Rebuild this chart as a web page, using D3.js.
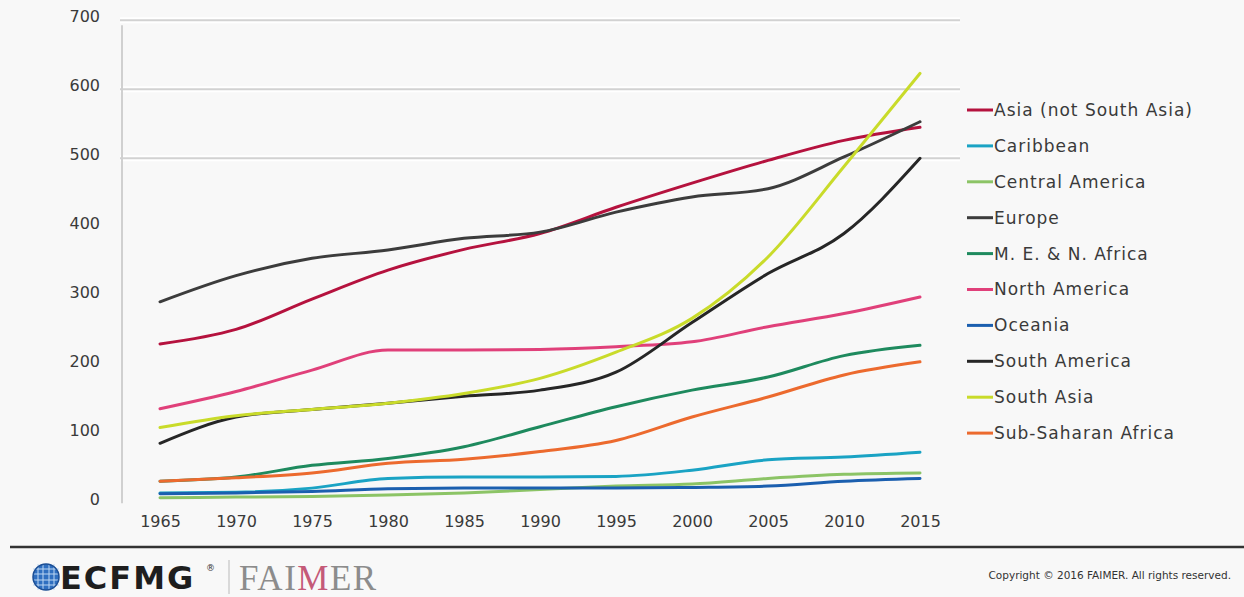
<!DOCTYPE html>
<html>
<head>
<meta charset="utf-8">
<script src="https://cdn.jsdelivr.net/npm/d3@7"></script>
<style>
  html, body { margin: 0; padding: 0; background: #f8f8f8; }
  svg { display: block; }
</style>
</head>
<body>
<svg id="chart" width="1244" height="597"></svg>
<script>
// Medical schools by region, 1965–2015
const years = [1965, 1970, 1975, 1980, 1985, 1990, 1995, 2000, 2005, 2010, 2015];
const yTicks = [0, 100, 200, 300, 400, 500, 600, 700];
const gridValues = [500, 600, 700];

const regionNames = [
  "Asia (not South Asia)", "Caribbean", "Central America", "Europe",
  "M. E. & N. Africa", "North America", "Oceania", "South America",
  "South Asia", "Sub-Saharan Africa"
];

const asia           = [231, 252, 296, 338, 368, 391, 429, 464, 497, 526, 545];
const caribbean      = [15, 16, 22, 36, 38, 38, 39, 48, 63, 67, 74];
const centralAmerica = [8, 9, 10, 12, 15, 20, 25, 28, 36, 42, 44];
const europe         = [292, 330, 355, 367, 384, 393, 422, 444, 456, 502, 553];
const meNAfrica      = [32, 38, 55, 65, 82, 111, 140, 164, 183, 214, 229];
const northAmerica   = [137, 162, 193, 222, 222, 223, 227, 234, 256, 275, 299];
const oceania        = [14, 15, 17, 21, 22, 22, 22, 23, 25, 32, 36];
const southAmerica   = [87, 125, 136, 145, 155, 164, 190, 262, 333, 391, 500];
const southAsia      = [110, 127, 136, 145, 159, 181, 219, 268, 357, 488, 623];
const subSaharan     = [32, 37, 44, 58, 64, 75, 91, 125, 154, 186, 205];

const regionValues = [asia, caribbean, centralAmerica, europe, meNAfrica,
                      northAmerica, oceania, southAmerica, southAsia, subSaharan];
const regionColors = ["#B5123E", "#1AA3C4", "#8CC466", "#3C3C3C", "#1E8A5E",
                      "#E0407A", "#1B5FAF", "#262626", "#C9DB2A", "#EC6A2E"];

const series = regionNames.map((name, i) => ({
  name, color: regionColors[i],
  values: years.map((yr, j) => ({ year: yr, value: regionValues[i][j] }))
}));

const svg = d3.select("#chart");
const textColor = "#3a3a3a";

const x = d3.scalePoint().domain(years).range([160, 920]);
const y = d3.scaleLinear().domain([0, 700]).range([503.3, 20.3]);

// gridlines (white halo under a light grey rule)
const grid = svg.append("g");
grid.selectAll("line.halo").data(gridValues).join("line")
  .attr("class", "halo")
  .attr("x1", 120).attr("x2", 960)
  .attr("y1", d => y(d)).attr("y2", d => y(d))
  .attr("stroke", "#ffffff").attr("stroke-width", 6);
grid.selectAll("line.rule").data(gridValues).join("line")
  .attr("class", "rule")
  .attr("x1", 120).attr("x2", 960)
  .attr("y1", d => y(d)).attr("y2", d => y(d))
  .attr("stroke", "#d2d2d2").attr("stroke-width", 2);

// vertical axis line
svg.append("line")
  .attr("x1", 122).attr("x2", 122)
  .attr("y1", y(700) + 5).attr("y2", y(0))
  .attr("stroke", "#d0d0d0").attr("stroke-width", 2);

// y axis labels
const yAxis = d3.axisLeft(y).tickValues(yTicks).tickSize(0).tickPadding(0);
const yG = svg.append("g").attr("transform", "translate(100,-4)").call(yAxis);
yG.select(".domain").remove();
yG.selectAll("text")
  .attr("font-family", "DejaVu Sans").attr("font-size", 16)
  .attr("fill", textColor);

// x axis labels
const xAxis = d3.axisBottom(x).tickSize(0).tickPadding(0);
const xG = svg.append("g").attr("transform", "translate(0,516)").call(xAxis);
xG.select(".domain").remove();
xG.selectAll("text")
  .attr("font-family", "DejaVu Sans").attr("font-size", 16)
  .attr("fill", textColor);

// series lines
const line = d3.line()
  .x(d => x(d.year))
  .y(d => y(d.value))
  .curve(d3.curveMonotoneX);

svg.append("g").selectAll("path").data(series).join("path")
  .attr("d", d => line(d.values))
  .attr("fill", "none")
  .attr("stroke", d => d.color)
  .attr("stroke-width", 3)
  .attr("stroke-linejoin", "round")
  .attr("stroke-linecap", "round");

// legend
const legend = svg.append("g").attr("transform", "translate(967,110)");
const item = legend.selectAll("g").data(series).join("g")
  .attr("transform", (d, i) => `translate(0,${i * 35.9})`);
item.append("line")
  .attr("x1", 0).attr("x2", 26).attr("y1", 0).attr("y2", 0)
  .attr("stroke", d => d.color).attr("stroke-width", 3);
item.append("text")
  .attr("x", 27).attr("y", 0).attr("dy", "0.35em")
  .attr("font-family", "DejaVu Sans").attr("font-size", 17)
  .attr("letter-spacing", 1)
  .attr("fill", textColor)
  .text(d => d.name);

// footer rule
svg.append("line")
  .attr("x1", 10).attr("x2", 1244).attr("y1", 547).attr("y2", 547)
  .attr("stroke", "#333").attr("stroke-width", 2.5);

// ECFMG globe mark
const globe = svg.append("g").attr("transform", "translate(46,577)");
globe.append("circle").attr("r", 13).attr("fill", "#2f6fc0");
[-8, -3, 3, 8].forEach(v => {
  globe.append("line").attr("x1", -13).attr("x2", 13).attr("y1", v).attr("y2", v)
    .attr("stroke", "#bcd6f2").attr("stroke-width", 1);
  globe.append("line").attr("y1", -13).attr("y2", 13).attr("x1", v).attr("x2", v)
    .attr("stroke", "#bcd6f2").attr("stroke-width", 1);
});
globe.append("circle").attr("r", 13).attr("fill", "none")
  .attr("stroke", "#1d4f95").attr("stroke-width", 1.5);

svg.append("text")
  .attr("x", 60).attr("y", 589)
  .attr("font-family", "DejaVu Sans").attr("font-weight", "bold")
  .attr("font-size", 32).attr("letter-spacing", 2)
  .attr("fill", "#1e1e1e")
  .text("ECFMG");
svg.append("text")
  .attr("x", 206).attr("y", 571)
  .attr("font-family", "DejaVu Sans").attr("font-size", 9)
  .attr("fill", "#333")
  .text("®");

svg.append("line")
  .attr("x1", 229).attr("x2", 229).attr("y1", 560).attr("y2", 594)
  .attr("stroke", "#cfcfcf").attr("stroke-width", 1.5);

const faimer = svg.append("text")
  .attr("x", 239).attr("y", 590)
  .attr("font-family", "Liberation Serif").attr("font-size", 35)
  .attr("letter-spacing", 1.5)
  .attr("fill", "#8c8c8c");
faimer.append("tspan").text("FAI");
faimer.append("tspan").attr("fill", "#c45a78").text("M");
faimer.append("tspan").text("ER");

svg.append("text")
  .attr("x", 1231).attr("y", 579)
  .attr("text-anchor", "end")
  .attr("font-family", "DejaVu Sans").attr("font-size", 10.5)
  .attr("fill", "#333")
  .text("Copyright © 2016 FAIMER. All rights reserved.");
</script>
</body>
</html>
